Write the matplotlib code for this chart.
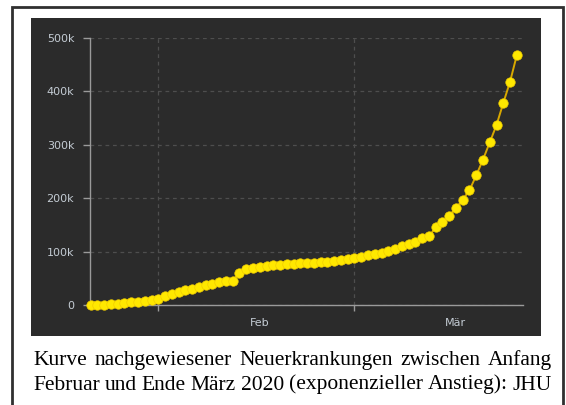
import numpy as np
import matplotlib
matplotlib.use("Agg")
import matplotlib.pyplot as plt
from matplotlib.patches import Rectangle

# daily cumulative confirmed cases (thousands), 22 Jan .. 25 Mar 2020
dates = np.arange("2020-01-22", "2020-03-26", dtype="datetime64[D]")
cases_k = [
    0.6, 0.7, 0.9, 1.4, 2.1, 2.9, 5.6, 6.2, 8.2, 9.9,
    12.0, 16.8, 19.9, 23.9, 27.6, 30.8, 34.4, 37.1, 40.2, 42.8,
    44.8, 45.2, 60.4, 66.9, 69.1, 71.2, 73.3, 75.2, 75.7, 76.2,
    76.8, 78.6, 79.0, 79.5, 80.4, 81.4, 82.7, 84.1, 86.0, 88.4,
    90.3, 92.8, 95.1, 97.9, 101.8, 105.8, 109.8, 113.6, 118.6, 125.9,
    128.4, 145.2, 156.1, 167.5, 181.6, 197.1, 214.8, 242.6, 272.2, 304.5,
    337.0, 378.2, 418.0, 467.7,
]
yticks = [0, 100, 200, 300, 400, 500]
ytick_labels = ["0", "100k", "200k", "300k", "400k", "500k"]
month_starts = ["2020-02-01", "2020-03-01"]
month_mids = ["2020-02-16", "2020-03-16"]
month_labels = ["Feb", "Mär"]
caption = ["Kurve nachgewiesener Neuerkrankungen zwischen Anfang",
           "Februar und Ende März 2020 (exponenzieller Anstieg): JHU"]

W, H = 566, 405
fig = plt.figure(figsize=(W / 100, H / 100), dpi=100)
fig.patch.set_facecolor("white")

def fx(x): return x / W
def fy(y): return 1 - y / H

def dt(s): return np.datetime64(s).astype("datetime64[ms]").astype(object)

# outer frame and dark panel
fig.patches.append(Rectangle((fx(12), -0.05), fx(563) - fx(12), fy(7) + 0.05,
                             transform=fig.transFigure, fill=False,
                             edgecolor="#303030", lw=2, zorder=-2))
fig.patches.append(Rectangle((fx(31), fy(336)), fx(541) - fx(31), fy(18) - fy(336),
                             transform=fig.transFigure, facecolor="#2b2b2b",
                             edgecolor="none", zorder=-1))

ax = fig.add_axes([fx(89.5), fy(305), fx(523) - fx(89.5), fy(38) - fy(305)])
ax.set_facecolor("none")

x = dates.astype("datetime64[ms]").astype(object)
ax.plot(x, cases_k, color="#d8a800", lw=1.4, marker="o", ms=6.8,
        mfc="#ffe800", mec="#f0cc00", mew=0.5, clip_on=False, zorder=3)

ax.set_ylim(0, 500)
ax.set_xlim(dt("2020-01-21T20:00"), dt("2020-03-25T22:00"))
ax.set_yticks(yticks)
ax.set_yticklabels(ytick_labels)

ax.set_xticks([dt(d) for d in month_starts])
ax.set_xticklabels([])
ax.set_xticks([dt(d) for d in month_mids], minor=True)
ax.set_xticklabels(month_labels, minor=True)

for s in ["top", "right"]:
    ax.spines[s].set_visible(False)
for s in ["left", "bottom"]:
    ax.spines[s].set_color("#9a9a9a")
    ax.spines[s].set_linewidth(1)

ax.tick_params(axis="y", colors="#9a9a9a", labelcolor="#c4ccd4",
               labelsize=8, length=5, width=1, pad=6)
ax.tick_params(axis="x", which="major", colors="#9a9a9a", length=4.5, width=1)
ax.tick_params(axis="x", which="minor", length=0, labelcolor="#c4ccd4",
               labelsize=8, pad=9)

ax.grid(True, which="major", color="#4e4e4e", lw=0.9, linestyle=(0, (3, 3)))

# justified caption, two lines from x=33 to x=552 px
renderer = fig.canvas.get_renderer()
x0, x1 = 33, 552
for i, line in enumerate(caption):
    words = line.split(" ")
    texts = [fig.text(0, fy(365 + 24.5 * i), w, family="Liberation Serif",
                      fontsize=15.5, color="black", ha="left", va="baseline")
             for w in words]
    widths = [t.get_window_extent(renderer).width for t in texts]
    gap = (x1 - x0 - sum(widths)) / (len(words) - 1)
    pos = x0
    for t, w in zip(texts, widths):
        t.set_x(fx(pos))
        pos += w + gap

fig.savefig("out.png", dpi=100)
